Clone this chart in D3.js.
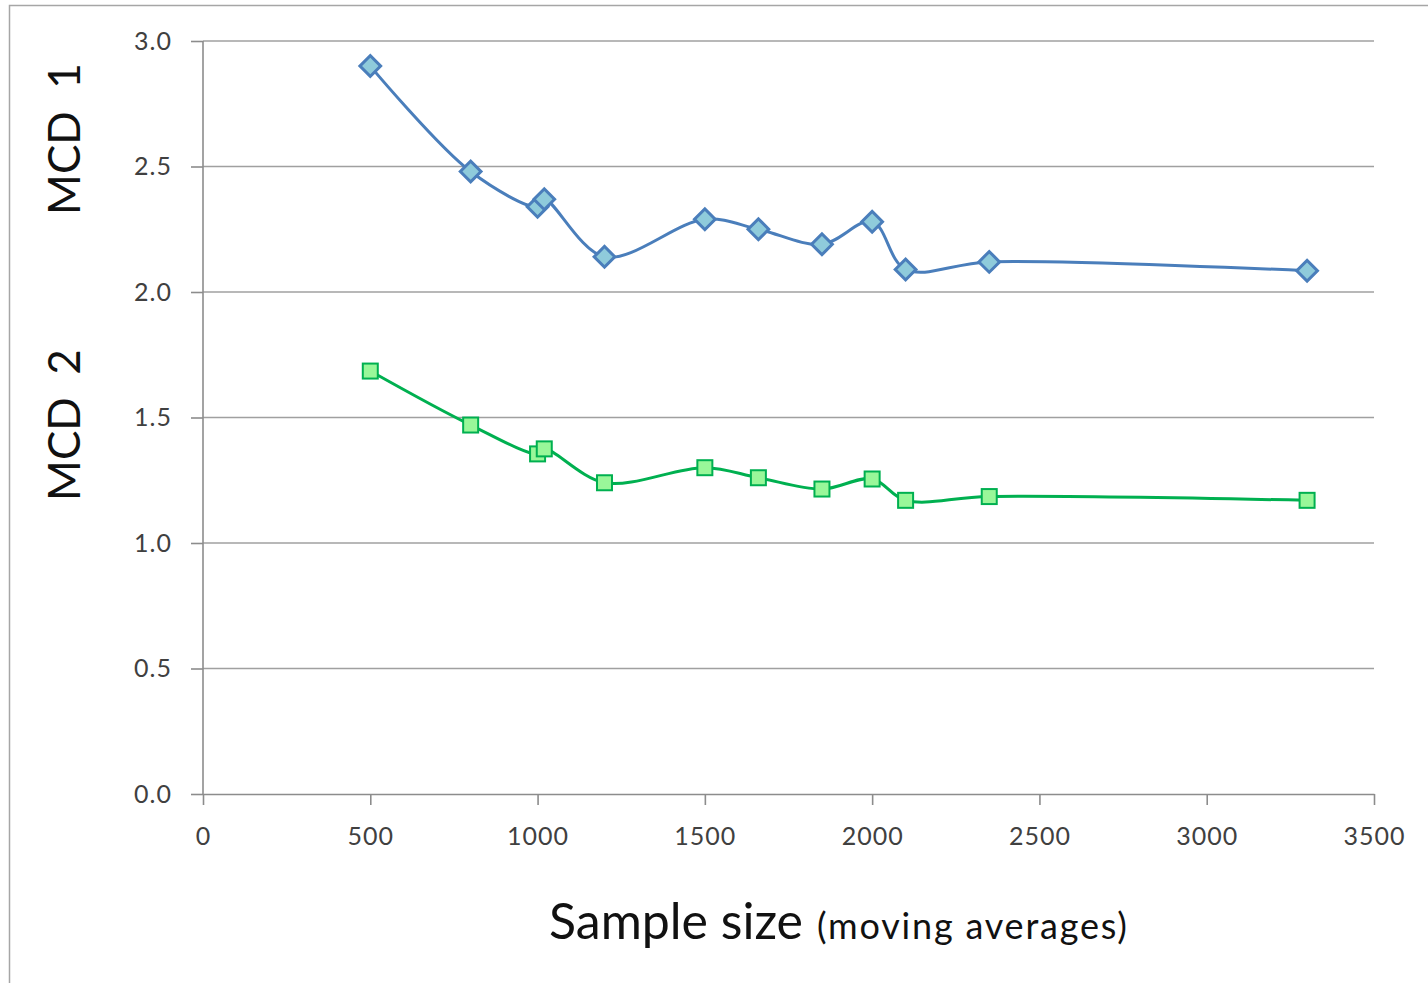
<!DOCTYPE html>
<html>
<head>
<meta charset="utf-8">
<script src="https://cdn.jsdelivr.net/npm/d3@7"></script>
<style>
  body { margin: 0; background: #fff; }
  text { font-family: Lato, "Open Sans", sans-serif; }
</style>
</head>
<body>
<script>
// sample sizes (moving averages)
let sizes = [500, 800, 1000, 1020, 1200, 1500, 1660, 1850, 2000, 2100, 2350, 3300];
let mcd1 = [2.90, 2.48, 2.34, 2.37, 2.14, 2.29, 2.25, 2.19, 2.28, 2.09, 2.12, 2.085];
let mcd2 = [1.685, 1.47, 1.355, 1.375, 1.24, 1.30, 1.26, 1.215, 1.255, 1.17, 1.185, 1.17];
let xTicks = [0, 500, 1000, 1500, 2000, 2500, 3000, 3500];
let yTicks = [0, 0.5, 1.0, 1.5, 2.0, 2.5, 3.0];

let width = 1428,
    height = 983,
    plotLeft = 203,
    plotRight = 1374,
    plotTop = 41,
    plotBottom = 794;

let svg = d3.select('body')
    .append('svg')
    .attr('width', width)
    .attr('height', height);

// outer frame
svg.append('rect')
    .attr('x', 9.5).attr('y', 5.5)
    .attr('width', width + 20).attr('height', height + 20)
    .attr('fill', 'none')
    .attr('stroke', '#a6a6a6')
    .attr('stroke-width', 1.5);

let x = d3.scaleLinear().domain([0, 3500]).range([plotLeft, plotRight]);
let y = d3.scaleLinear().domain([0, 3]).range([plotBottom, plotTop]);

// gridlines
svg.append('g').selectAll('line')
    .data(yTicks.filter(d => d > 0))
    .enter()
    .append('line')
    .attr('x1', plotLeft).attr('x2', plotRight)
    .attr('y1', d => y(d)).attr('y2', d => y(d))
    .attr('stroke', '#a0a0a0')
    .attr('stroke-width', 1.6);

let axisY = d3.axisLeft(y).tickValues(yTicks).tickSizeInner(12).tickSizeOuter(0).tickPadding(19)
    .tickFormat(d3.format('.1f'));
let axisX = d3.axisBottom(x).tickValues(xTicks).tickSizeInner(11).tickSizeOuter(0).tickPadding(22)
    .tickFormat(d3.format('d'));

let gy = svg.append('g').attr('transform', `translate(${plotLeft},0)`).call(axisY);
let gx = svg.append('g').attr('transform', `translate(0,${plotBottom})`).call(axisX);

[gx, gy].forEach(g => {
    g.selectAll('path, line').attr('stroke', '#8c8c8c').attr('stroke-width', 1.6);
    g.selectAll('text')
        .style('font-family', 'Lato, "Open Sans", sans-serif')
        .style('font-size', '25px')
        .style('letter-spacing', '1px')
        .attr('fill', '#404040');
});
gy.selectAll('path.domain').attr('d', `M0,${plotTop}V${plotBottom}`);

// lines
let line = d3.line()
    .x((d, i) => x(sizes[i]))
    .y(d => y(d))
    .curve(d3.curveCatmullRom.alpha(0.5));

svg.append('path')
    .datum(mcd1)
    .attr('d', line)
    .attr('fill', 'none')
    .attr('stroke', '#4a7ebb')
    .attr('stroke-width', 3);

svg.append('path')
    .datum(mcd2)
    .attr('d', line)
    .attr('fill', 'none')
    .attr('stroke', '#00b050')
    .attr('stroke-width', 3);

// markers
let diamond = d3.symbol().type(d3.symbolSquare).size(215);
svg.selectAll('path.mcd1')
    .data(mcd1)
    .enter()
    .append('path')
    .attr('class', 'mcd1')
    .attr('d', diamond)
    .attr('transform', (d, i) => `translate(${x(sizes[i])},${y(d)}) rotate(45)`)
    .attr('fill', '#8fcbdb')
    .attr('stroke', '#4a7ebb')
    .attr('stroke-width', 3);

svg.selectAll('rect.mcd2')
    .data(mcd2)
    .enter()
    .append('rect')
    .attr('class', 'mcd2')
    .attr('x', (d, i) => x(sizes[i]) - 7.5)
    .attr('y', d => y(d) - 7.5)
    .attr('width', 15)
    .attr('height', 15)
    .attr('fill', '#99f799')
    .attr('stroke', '#00b050')
    .attr('stroke-width', 2);

// axis titles
[['MCD  1', 139], ['MCD  2', 425]].forEach(t => {
    svg.append('text')
        .attr('transform', `translate(80,${t[1]}) rotate(-90)`)
        .attr('text-anchor', 'middle')
        .style('white-space', 'pre')
        .style('font-size', '44px')
        .attr('fill', '#111')
        .text(t[0]);
});

let xt = svg.append('text')
    .attr('x', 549)
    .attr('y', 939)
    .attr('fill', '#111');
xt.append('tspan').style('font-size', '50px').text('Sample size');
xt.append('tspan').style('font-size', '36px').style('letter-spacing', '1.8px').attr('dx', 14).text('(moving averages)');
</script>
</body>
</html>
